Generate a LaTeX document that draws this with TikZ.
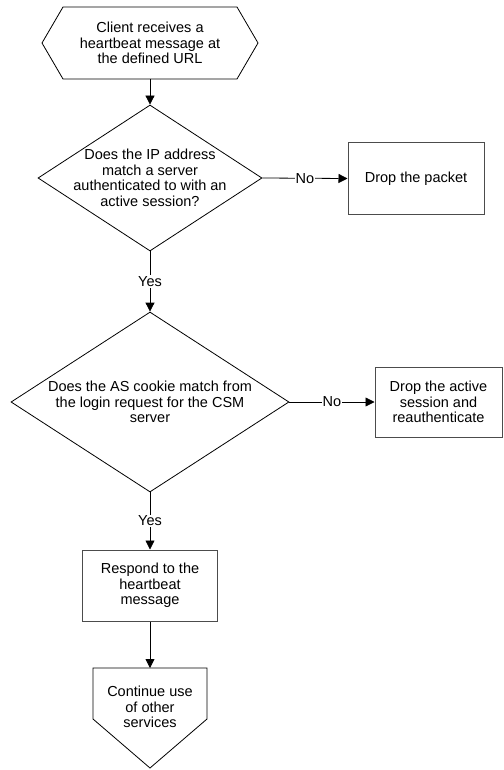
\documentclass[tikz,border=0pt]{standalone}
\usepackage{fontspec}
\setmainfont{Liberation Sans}
\usetikzlibrary{math,shapes.geometric,arrows.meta}

\tikzset{
  flowbox/.style={draw=black!70, line width=1pt, align=center, inner sep=2pt},
  flowtext/.style={align=center, inner sep=0pt},
  choice/.style={diamond, draw, inner sep=0pt},
  edgelbl/.style={fill=white, inner sep=1pt}
}

\begin{document}
\begin{tikzpicture}[x=1pt, y=-1pt, line width=0.8pt,
    font=\fontsize{14.5}{15.5}\selectfont,
    >={Triangle[length=9pt,width=9pt]}]
  \tikzmath{\cx = 150; \hw = 108; \hh = 36; \hp = 21; \pw = 57; \pt = 49;}
  \useasboundingbox (0,0) rectangle (503,770);

  % start: hexagon
  \draw (\cx-\hw+\hp, 43-\hh) -- (\cx+\hw-\hp, 43-\hh) -- (\cx+\hw, 43)
        -- (\cx+\hw-\hp, 43+\hh) -- (\cx-\hw+\hp, 43+\hh) -- (\cx-\hw, 43) -- cycle;
  \node[flowtext] (start) at (\cx, 43) {Client receives a\\heartbeat message at\\the defined URL};
  \coordinate (startS) at (\cx, 43+\hh);

  % first decision
  \node[choice, minimum width=224pt, minimum height=146pt] (ipcheck) at (\cx, 178) {};
  \node[flowtext] (ipcheckT) at (ipcheck) {Does the IP address\\match a server\\authenticated to with an\\active session?};
  \node[flowbox, minimum width=136pt, minimum height=71pt] (drop) at (416, 178.5) {Drop the packet};
  \draw[->] (startS) -- (ipcheck.north);
  \draw[->] (ipcheck.east) -- node[edgelbl]{No} (drop.west);

  % second decision
  \node[choice, minimum width=278pt, minimum height=180pt] (cookie) at (\cx, 402) {};
  \node[flowtext] (cookieT) at (cookie) {Does the AS cookie match from\\the login request for the CSM\\server};
  \node[flowbox, minimum width=127pt, minimum height=70pt] (reauth) at (438.5, 402) {Drop the active\\session and\\reauthenticate};
  \draw[->] (ipcheck.south) -- node[edgelbl]{Yes} (cookie.north);
  \draw[->] (cookie.east) -- node[edgelbl]{No} (reauth.west);

  % respond
  \node[flowbox, minimum width=135pt, minimum height=71pt] (respond) at (\cx, 585.5) {Respond to the\\heartbeat\\message};
  \draw[->] (cookie.south) -- node[edgelbl]{Yes} (respond.north);

  % end: off-page connector
  \draw (\cx-\pw, 668) -- (\cx+\pw, 668) -- (\cx+\pw, 768-\pt) -- (\cx, 768)
        -- (\cx-\pw, 768-\pt) -- cycle;
  \coordinate (goonN) at (\cx, 668);
  \node[flowtext] (goon) at (\cx, 707) {Continue use\\of other\\services};
  \draw[->] (respond.south) -- (goonN);
\end{tikzpicture}
\end{document}
